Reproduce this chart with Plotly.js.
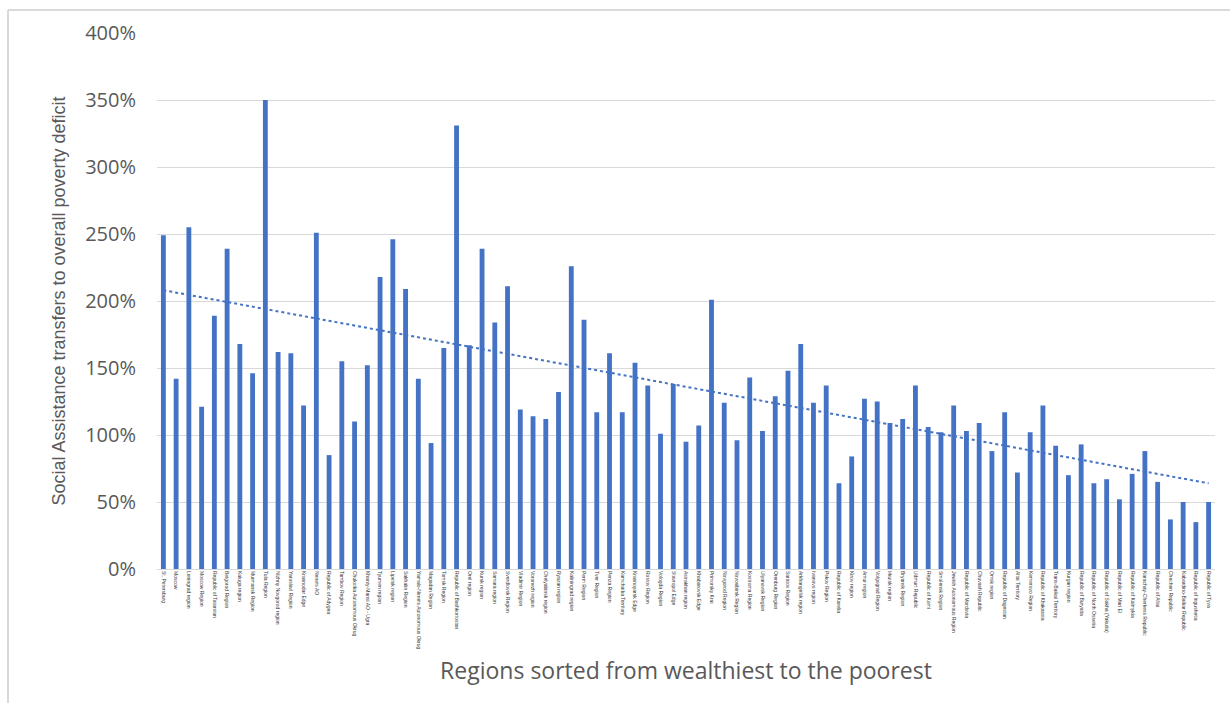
<!DOCTYPE html>
<html>
<head>
<meta charset="utf-8">
<script src="https://cdn.plot.ly/plotly-3.0.1.min.js"></script>
<style>
  html, body { margin: 0; padding: 0; background: #ffffff; }
  #chart { width: 1230px; height: 703px; }
</style>
</head>
<body>
<div id="chart"></div>
<script>
// Regions sorted from wealthiest to the poorest
const regions = [
  "St. Petersburg", "Moscow", "Leningrad region", "Moscow Region", "Republic of Tatarstan",
  "Belgorod Region", "Kaluga region", "Murmansk Region", "Tula Region", "Nizhny Novgorod region",
  "Yaroslavl Region", "Krasnodar Edge", "Nenets AO", "Republic of Adygea", "Tambov Region",
  "Chukotka Autonomous Okrug", "Khanty-Mansi AO - Ugra", "Tyumen region", "Lipetsk region", "Sakhalin Region",
  "Yamalo-Nenets Autonomous Okrug", "Magadan Region", "Tomsk Region", "Republic of Bashkortostan", "Orel region",
  "Kursk region", "Samara region", "Sverdlovsk Region", "Vladimir Region", "Voronezh region",
  "Chelyabinsk region", "Ryazan region", "Kaliningrad region", "Perm Region", "Tver Region",
  "Penza Region", "Kamchatka Territory", "Krasnoyarsk Edge", "Rostov Region", "Vologda Region",
  "Stavropol Edge", "Astrakhan region", "Khabarovsk Edge", "Primorsky Krai", "Novgorod Region",
  "Novosibirsk Region", "Kostroma Region", "Ulyanovsk Region", "Orenburg Region", "Saratov Region",
  "Arkhangelsk region", "Ivanovo region", "Pskov Region", "Republic of Karelia", "Kirov region",
  "Amur region", "Volgograd Region", "Irkutsk region", "Bryansk Region", "Udmurt Republic",
  "Republic of Komi", "Smolensk Region", "Jewish Autonomous Region", "Republic of Mordovia", "Chuvash Republic",
  "Omsk region", "Republic of Dagestan", "Altai Territory", "Kemerovo Region", "Republic of Khakassia",
  "Trans-Baikal Territory", "Kurgan region", "Republic of Buryatia", "Republic of North Ossetia", "Republic of Sakha (Yakutia)",
  "Republic of Mari El", "Republic of Kalmykia", "Karachay-Cherkess Republic", "Republic of Altai", "Chechen Republic",
  "Kabardino-Balkar Republic", "Republic of Ingushetia", "Republic of Tyva"
];

// Social Assistance transfers to overall poverty deficit, %
const transfersPct = [
  249, 142, 255, 121, 189, 239, 168, 146, 350, 162,
  161, 122, 251, 85, 155, 110, 152, 218, 246, 209,
  142, 94, 165, 331, 167, 239, 184, 211, 119, 114,
  112, 132, 226, 186, 117, 161, 117, 154, 137, 101,
  138, 95, 107, 201, 124, 96, 143, 103, 129, 148,
  168, 124, 137, 64, 84, 127, 125, 109, 112, 137,
  106, 102, 122, 103, 109, 88, 117, 72, 102, 122,
  92, 70, 93, 64, 67, 52, 71, 88, 65, 37,
  50, 35, 50
];

const yTicks = [0, 50, 100, 150, 200, 250, 300, 350, 400];

// Linear trendline (least squares over category index), as in the original spreadsheet
const n = transfersPct.length;
let sx = 0, sy = 0, sxx = 0, sxy = 0;
for (let i = 0; i < n; i++) {
  const xi = i + 1, yi = transfersPct[i];
  sx += xi; sy += yi; sxx += xi * xi; sxy += xi * yi;
}
const slope = (n * sxy - sx * sy) / (n * sxx - sx * sx);
const intercept = (sy - slope * sx) / n;
const trend = transfersPct.map((_, i) => intercept + slope * (i + 1));

const blue = "#4472C4";
const grid = "#D9D9D9";
const textGrey = "#595959";

const traces = [
  {
    type: "bar",
    x: regions,
    y: transfersPct,
    marker: { color: blue },
    hoverinfo: "x+y",
    showlegend: false
  },
  {
    type: "scatter",
    mode: "lines",
    x: regions,
    y: trend,
    line: { color: blue, width: 2, dash: "dot" },
    hoverinfo: "skip",
    showlegend: false
  }
];

const L = 157, R = 15, T = 33, B = 134, W = 1230, H = 703;
const pw = W - L - R, ph = H - T - B;
const px = X => (X - L) / pw;
const py = Y => (H - B - Y) / ph;

const layout = {
  width: W,
  height: H,
  margin: { l: L, r: R, t: T, b: B, pad: 0 },
  paper_bgcolor: "#ffffff",
  plot_bgcolor: "#ffffff",
  bargap: 0.62,
  showlegend: false,
  font: { family: "Open Sans, sans-serif", color: textGrey },
  xaxis: {
    type: "category",
    range: [-0.5, n - 0.5],
    showgrid: false,
    showline: true,
    linecolor: grid,
    linewidth: 1,
    ticks: "",
    tickmode: "linear",
    tick0: 0,
    dtick: 1,
    tickangle: 90,
    tickfont: { family: "Liberation Sans Narrow, Arial Narrow, sans-serif", size: 5, color: "#3a3a3a" },
    automargin: false,
    title: {
      text: "Regions sorted from wealthiest to the poorest",
      font: { family: "Open Sans, sans-serif", size: 23, color: textGrey },
      standoff: 14
    }
  },
  yaxis: {
    range: [0, 400],
    tickmode: "array",
    tickvals: yTicks,
    ticktext: yTicks.map(v => v + "%"),
    showgrid: true,
    gridcolor: grid,
    gridwidth: 1,
    zeroline: false,
    showline: false,
    ticks: "",
    ticklabelstandoff: 20,
    tickfont: { family: "Open Sans, sans-serif", size: 20, color: textGrey },
    automargin: false,
    title: {
      text: "Social Assistance transfers to overall poverty deficit",
      font: { family: "Liberation Sans Narrow, Arial Narrow, sans-serif", size: 18, color: textGrey },
      standoff: 14
    }
  },
  shapes: [
    { type: "line", xref: "paper", yref: "paper", x0: px(8), x1: px(8), y0: py(10), y1: py(703),
      line: { color: grid, width: 2 } },
    { type: "line", xref: "paper", yref: "paper", x0: px(8), x1: px(1230), y0: py(10), y1: py(10),
      line: { color: grid, width: 2 } }
  ]
};

Plotly.newPlot("chart", traces, layout, { displayModeBar: false, staticPlot: true });
</script>
</body>
</html>
